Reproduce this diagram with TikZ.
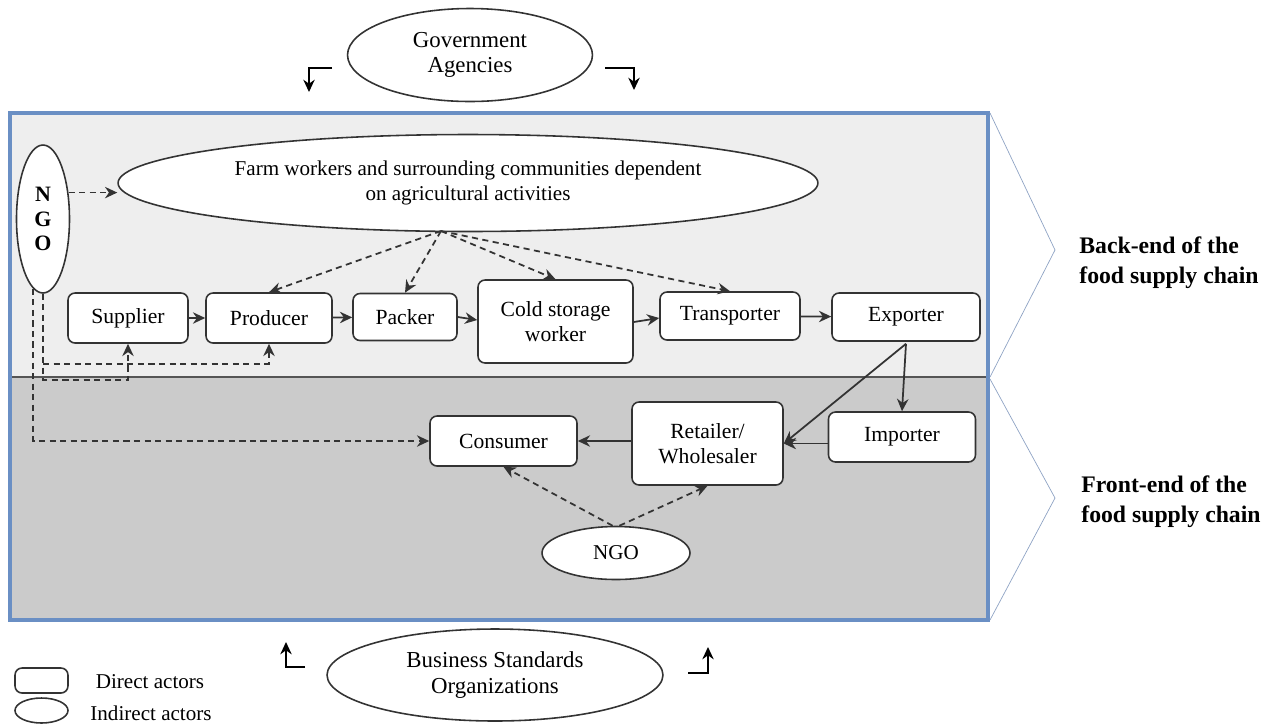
\documentclass[tikz,border=0pt]{standalone}
\usepackage{fontspec}
\setmainfont{Liberation Serif}
\usetikzlibrary{shapes.geometric,arrows.meta,calc}
\definecolor{topfill}{HTML}{EEEEEE}
\definecolor{botfill}{HTML}{CBCBCB}
\definecolor{framec}{HTML}{6A8FC4}
\definecolor{linec}{HTML}{333333}
\definecolor{divc}{HTML}{555555}
\definecolor{chev}{HTML}{8FA3C4}
\begin{document}
\begin{tikzpicture}[x=0.02cm,y=-0.02cm,
  box/.style={draw=linec, fill=white, rounded corners=4pt, line width=0.9pt, align=center, inner sep=0pt, font=\fontsize{12.3}{14}\selectfont},
  ell/.style={ellipse, draw=linec, fill=white, line width=0.9pt, align=center, inner sep=0pt, font=\fontsize{12}{14}\selectfont},
  flow/.style={-{Stealth[length=7pt,width=6.5pt]}, line width=1pt, draw=linec},
  dflow/.style={flow, dash pattern=on 3.5pt off 2.5pt},
  bent/.style={-{Stealth[length=7pt,width=6.5pt]}, line width=1pt, draw=black},
  side/.style={align=left, anchor=west, inner sep=0pt, font=\bfseries\fontsize{13.5}{17}\selectfont},
  legtext/.style={inner sep=0pt, font=\fontsize{12}{14}\selectfont}]

\useasboundingbox (0,0) rectangle (1275,725);

% background regions
\fill[topfill] (10,113) rectangle (988,377);
\fill[botfill] (10,377) rectangle (988,620);
\draw[divc, line width=1.3pt] (10,377) -- (988,377);
\draw[framec, line width=2pt] (10,113) rectangle (988,620);

% chevrons
\draw[chev, line width=0.4pt] (990,113) -- (1055,250) -- (990,377);
\draw[chev, line width=0.4pt] (990,379) -- (1055,498) -- (990,620);
\node[side] (back) at (1079,263) {Back-end of the\\food supply chain};
\node[side] (front) at (1081,502) {Front-end of the\\food supply chain};

% indirect actors
\node[ell, minimum width=4.9cm, minimum height=1.86cm, font=\fontsize{13}{14.5}\selectfont] (gov) at (470,55) {Government\\Agencies};
\node[ell, minimum width=6.72cm, minimum height=1.84cm, font=\fontsize{13}{14.5}\selectfont] (bso) at (495,675) {Business Standards\\Organizations};
\node[ell, minimum width=14cm, minimum height=1.94cm, font=\fontsize{12}{14.7}\selectfont] (farm) at (468,183) {Farm workers and surrounding communities dependent\\on agricultural activities};
\node[ell, minimum width=1.06cm, minimum height=2.96cm, font=\bfseries\fontsize{12.5}{14}\selectfont] (ngoa) at (43,219) {N\\G\\O};
\node[ell, minimum width=2.96cm, minimum height=1.06cm] (ngob) at (616,553) {NGO};

% direct actors
\node[box, minimum width=2.4cm, minimum height=1.0cm] (supplier) at (128,318) {Supplier};
\node[box, minimum width=2.52cm, minimum height=1.0cm] (producer) at (269,318) {Producer};
\node[box, minimum width=2.08cm, minimum height=0.94cm] (packer) at (405,317) {Packer};
\node[box, minimum width=3.1cm, minimum height=1.66cm] (cold) at (555.5,321.5) {Cold storage\\worker};
\node[box, minimum width=2.8cm, minimum height=0.96cm] (transporter) at (730,316) {Transporter};
\node[box, minimum width=2.96cm, minimum height=0.96cm] (exporter) at (906,317) {Exporter};
\node[box, minimum width=2.94cm, minimum height=1.0cm] (importer) at (902,437) {Importer};
\node[box, minimum width=3.02cm, minimum height=1.66cm] (retailer) at (707.5,443.5) {Retailer/\\Wholesaler};
\node[box, minimum width=2.94cm, minimum height=1.0cm] (consumer) at (503.5,441) {Consumer};

% legend
\node[box, minimum width=1.06cm, minimum height=0.5cm] (legbox) at (41.5,680.5) {};
\node[ell, minimum width=1.06cm, minimum height=0.5cm] (legell) at (41.5,710.5) {};
\node[legtext] (legdirect) at (150,682) {Direct actors};
\node[legtext] (legindirect) at (151,713) {Indirect actors};

% solid flows
\draw[flow] (supplier) -- (producer);
\draw[flow] (producer) -- (packer);
\draw[flow] (packer.east) -- (cold.west |- 0,320);
\draw[flow] (cold.east |- 0,322) -- (transporter.west |- 0,318);
\draw[flow] (transporter) -- (exporter);
\coordinate (exb) at ($(exporter.south)+(0,2)$);
\draw[flow] (exb) -- (importer.north);
\draw[flow] (exb) -- (retailer.east);
\draw[flow] (importer.west |- retailer.east) -- (retailer.east);
\draw[flow] (retailer.west |- consumer.east) -- (consumer.east);

% dashed flows from farm workers
\coordinate (fb) at (441,231);
\draw[dflow] (fb) -- (producer.north);
\draw[dflow] (fb) -- (packer.north);
\draw[dflow] (fb) -- (cold.north);
\draw[dflow] (fb) -- (transporter.north);

% dashed flows from NGOs
\draw[dflow] (ngoa.46) -- (ngoa.46 -| farm.west);
\draw[dflow] (ngoa.south) -- ++(0,86) -| (supplier.south);
\draw[dflow] (ngoa.south) ++(0,70) -| (producer.south);
\draw[dflow] (ngoa.262) |- (consumer.west);
\draw[dflow] (ngob.97) -- (consumer.south);
\draw[dflow] (ngob.83) -- (retailer.south);

% bent arrows around the frame
\coordinate (g1a) at (332,68); \coordinate (g1b) at (309,92);
\coordinate (g2a) at (605,68); \coordinate (g2b) at (634,90);
\coordinate (b1a) at (305,667); \coordinate (b1b) at (286,642);
\coordinate (b2a) at (688,673); \coordinate (b2b) at (708,647);
\draw[bent] (g1a) -| (g1b);
\draw[bent] (g2a) -| (g2b);
\draw[bent] (b1a) -| (b1b);
\draw[bent] (b2a) -| (b2b);
\end{tikzpicture}
\end{document}
